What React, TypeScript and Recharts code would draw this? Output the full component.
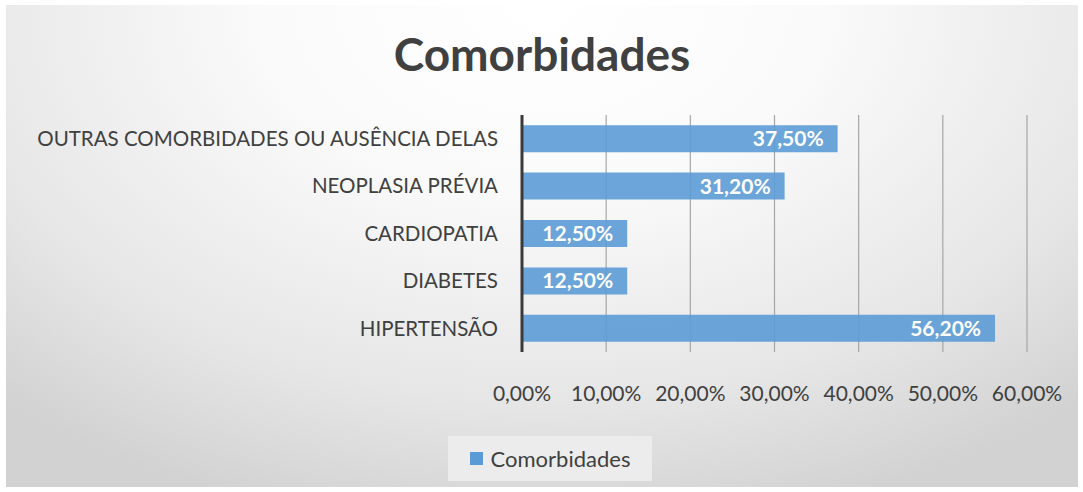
import React from 'react'
import {
  BarChart,
  Bar,
  XAxis,
  YAxis,
  CartesianGrid,
  LabelList,
  Legend,
} from 'recharts'

const categories = [
  'OUTRAS COMORBIDADES OU AUSÊNCIA DELAS',
  'NEOPLASIA PRÉVIA',
  'CARDIOPATIA',
  'DIABETES',
  'HIPERTENSÃO',
]
const values = [0.375, 0.312, 0.125, 0.125, 0.562]
const xTicks = [0, 0.1, 0.2, 0.3, 0.4, 0.5, 0.6]
const seriesName = 'Comorbidades'

const data = categories.map((name, i) => ({ name, value: values[i] }))

const FONT = 'Lato, "Open Sans", sans-serif'
const TEXT = '#404040'
const BLUE = '#5b9bd5'

// 0.375 -> "37,50%"
const pct = (v: number) => (v * 100).toFixed(2).replace('.', ',') + '%'

function LegendBox() {
  return (
    <div
      style={{
        width: 204,
        height: 45,
        marginLeft: 442,
        background: '#ececec',
        display: 'flex',
        alignItems: 'center',
        justifyContent: 'center',
        gap: 8,
        fontFamily: FONT,
        fontSize: 22,
        color: TEXT,
      }}
    >
      <span style={{ width: 13, height: 13, background: BLUE, display: 'inline-block' }} />
      <span>{seriesName}</span>
    </div>
  )
}

export default function App() {
  return (
    <div style={{ position: 'absolute', left: 0, top: 0, width: 1083, height: 492, background: '#fff' }}>
      <div
        style={{
          position: 'absolute',
          left: 6,
          top: 5,
          width: 1072,
          height: 482,
          background:
            'radial-gradient(ellipse 75% 110% at 50% 0%, #ffffff 0%, #fafafa 35%, #e6e6e6 75%, #d2d2d2 100%)',
        }}
      >
        <div
          style={{
            position: 'absolute',
            left: 0,
            top: 21,
            width: 1072,
            textAlign: 'center',
            fontFamily: FONT,
            fontWeight: 700,
            fontSize: 46,
            color: TEXT,
          }}
        >
          Comorbidades
        </div>
        <BarChart
          width={1072}
          height={482}
          data={data}
          layout="vertical"
          margin={{ top: 110, right: 51, left: 0, bottom: 30 }}
          barCategoryGap="21.5%"
        >
          <CartesianGrid horizontal={false} stroke="#a6a6a6" strokeWidth={1.2} />
          <XAxis
            type="number"
            domain={[0, 0.6]}
            ticks={xTicks}
            tickFormatter={pct}
            axisLine={false}
            tickLine={false}
            tickMargin={28}
            height={60}
            interval={0}
            tick={{ fill: TEXT, fontSize: 21, fontFamily: FONT }}
          />
          <YAxis
            type="category"
            dataKey="name"
            width={516}
            axisLine={{ stroke: '#3a3a3a', strokeWidth: 3 }}
            tickLine={false}
            tickMargin={18}
            interval={0}
            tick={{ fill: TEXT, fontSize: 20.5, fontFamily: FONT }}
          />
          <Legend
            verticalAlign="bottom"
            content={() => <LegendBox />}
            wrapperStyle={{ left: 0, width: 1072, bottom: 6 }}
          />
          <Bar dataKey="value" name={seriesName} fill={BLUE} fillOpacity={0.9} isAnimationActive={false}>
            <LabelList
              dataKey="value"
              position="insideRight"
              offset={14}
              formatter={(v: number) => pct(v)}
              fill="#ffffff"
              fontSize={21}
              fontWeight={700}
              fontFamily={FONT}
            />
          </Bar>
        </BarChart>
      </div>
    </div>
  )
}
